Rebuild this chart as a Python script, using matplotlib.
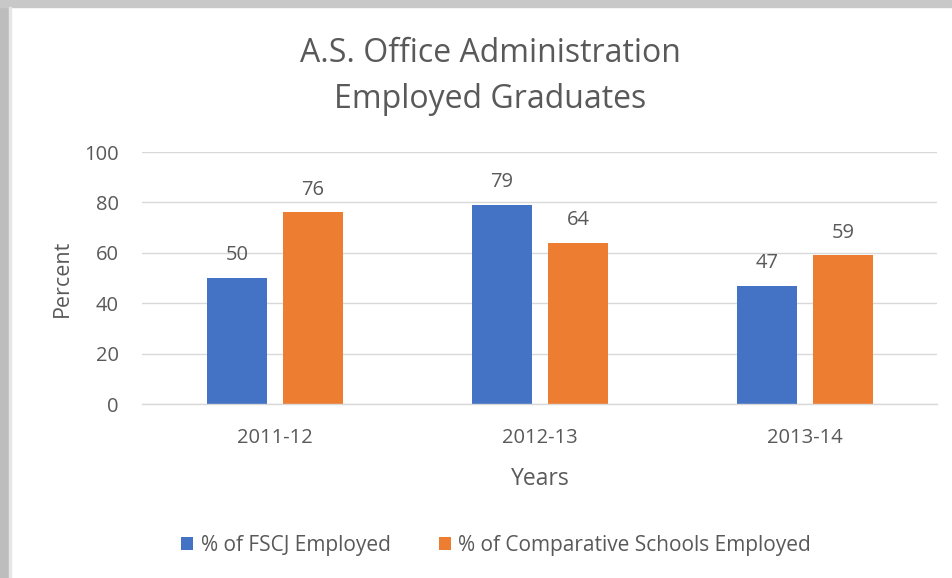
import matplotlib
matplotlib.use("Agg")
import matplotlib.pyplot as plt
from matplotlib.patches import Rectangle
import numpy as np

categories = ["2011-12", "2012-13", "2013-14"]
fscj = [50, 79, 47]
comparative = [76, 64, 59]
series_names = ["% of FSCJ Employed", "% of Comparative Schools Employed"]
yticks = [0, 20, 40, 60, 80, 100]

plt.rcParams['font.family'] = ['Open Sans', 'DejaVu Sans']
gray = "#595959"
blue = "#4472C4"
orange = "#ED7D31"

W, H = 953, 578
fig = plt.figure(figsize=(W/100, H/100), dpi=100)
fig.patch.set_facecolor("white")
# gray frame on left and top
fig.patches.append(Rectangle((0, 0), 9/W, 1, transform=fig.transFigure, color="#bdbdbd", zorder=0))
fig.patches.append(Rectangle((0, 1-7/H), 1, 7/H, transform=fig.transFigure, color="#c8c8c8", zorder=0))
fig.patches.append(Rectangle((9/W, 0), 2/W, 1-7/H, transform=fig.transFigure, color="#e6e6e6", zorder=0))

ax = fig.add_axes([142.5/W, 1-404/H, 795/W, 252/H])
x = np.arange(len(categories))
w = 0.228
off = 0.143
b1 = ax.bar(x - off, fscj, w, color=blue, label=series_names[0], zorder=3)
b2 = ax.bar(x + off, comparative, w, color=orange, label=series_names[1], zorder=3)
for bars, vals in ((b1, fscj), (b2, comparative)):
    for rect, v in zip(bars, vals):
        ax.text(rect.get_x() + rect.get_width()/2, v + 5, str(v), ha="center", va="bottom",
                fontsize=14.5, color=gray)

ax.set_xlim(-0.5, 2.5)
ax.set_ylim(0, 100)
ax.set_yticks(yticks)
ax.set_xticks(x)
ax.set_xticklabels(categories)
ax.tick_params(axis="both", length=0, labelsize=14.5, labelcolor=gray)
ax.tick_params(axis="y", pad=17)
ax.tick_params(axis="x", pad=17)
ax.grid(axis="y", color="#d9d9d9", linewidth=1, zorder=0)
for s in ("top", "right", "left"):
    ax.spines[s].set_visible(False)
ax.spines["bottom"].set_color("#d9d9d9")
ax.spines["bottom"].set_linewidth(1)
ax.spines["bottom"].set_zorder(4)

ax.set_ylabel("Percent", fontsize=15.5, color=gray, labelpad=8)
ax.set_xlabel("Years", fontsize=16.5, color=gray, labelpad=14)

fig.text(490/W, 1-53/H, "A.S. Office Administration", ha="center", va="center", fontsize=23, color=gray)
fig.text(490/W, 1-100/H, "Employed Graduates", ha="center", va="center", fontsize=23, color=gray)

leg = fig.legend(handles=[b1, b2], labels=series_names, loc="center", bbox_to_anchor=(496/W, 1-545/H),
                 ncol=2, frameon=False, fontsize=15, handlelength=0.6, handleheight=0.6,
                 handletextpad=0.35, columnspacing=2.3)
for t in leg.get_texts():
    t.set_color(gray)

fig.savefig("out.png", dpi=100)
